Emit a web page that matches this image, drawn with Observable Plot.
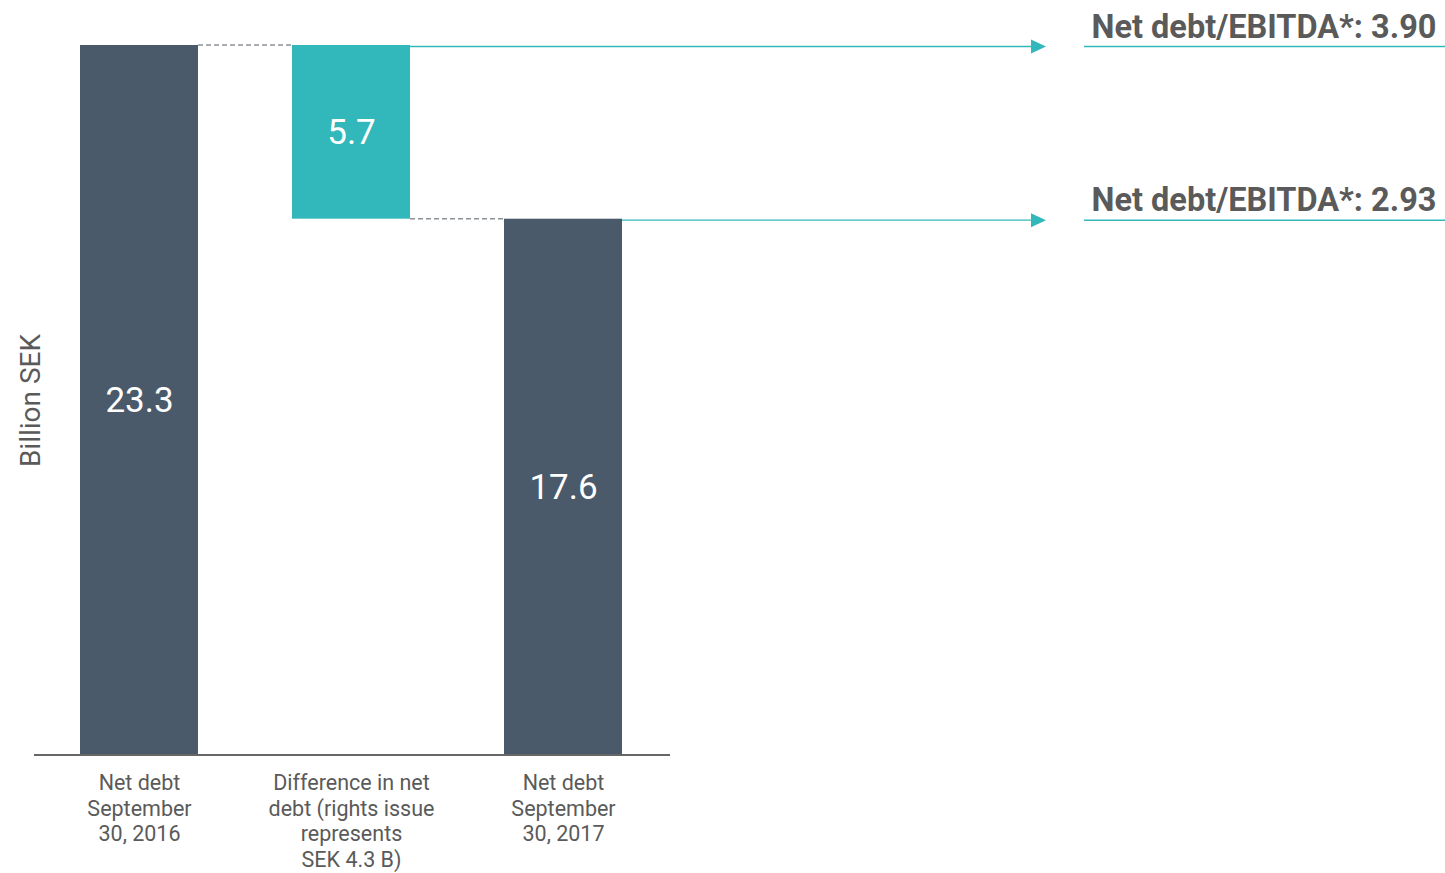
<!DOCTYPE html>
<html>
<head>
<meta charset="utf-8">
<script src="https://cdn.jsdelivr.net/npm/d3@7"></script>
<script src="https://cdn.jsdelivr.net/npm/@observablehq/plot@0.6"></script>
<style>
  body { margin: 0; background: #fff; }
  svg { display: block; }
</style>
</head>
<body>
<div id="chart"></div>
<script>
// ---- Data ----
const categories = [
  "Net debt\nSeptember\n30, 2016",
  "Difference in net\ndebt (rights issue\nrepresents\nSEK 4.3 B)",
  "Net debt\nSeptember\n30, 2017"
];
const barStarts = [0, 17.6, 0];
const barEnds = [23.3, 23.3, 17.6];
const barLabels = ["23.3", "5.7", "17.6"];
const barKinds = ["total", "change", "total"];
const connectorLevels = [23.3, 17.6];           // dashed link from bar i to bar i+1
const ratioLevels = [23.3, 17.6];
const ratioFromBar = [1, 2];                      // bar index the arrow starts from
const ratioLabels = ["Net debt/EBITDA*: 3.90", "Net debt/EBITDA*: 2.93"];
const yLabel = "Billion SEK";

// ---- Derived tables ----
const bars = categories.map((c, i) => ({category: c, start: barStarts[i], end: barEnds[i], label: barLabels[i], kind: barKinds[i]}));
const connectors = connectorLevels.map((v, i) => ({level: v, from: categories[i], to: categories[i + 1]}));
const ratios = ratioLevels.map((v, i) => ({level: v, from: categories[ratioFromBar[i]], label: ratioLabels[i]}));

const DARK = "#4a5a6a", TEAL = "#32b8bb", TEXT = "#5a5a5a";

function bw(scales) {
  const x = scales.x;
  return typeof x.bandwidth === "function" ? x.bandwidth() : scales.scales.x.bandwidth;
}

const chart = Plot.plot({
  width: 1445,
  height: 873,
  marginLeft: 35,
  marginRight: 400,
  marginTop: 45,
  marginBottom: 118,
  style: {fontFamily: "Roboto, sans-serif", background: "#fff"},
  x: {type: "band", domain: categories, range: [33, 669.5], paddingInner: 0.445, paddingOuter: 0.222},
  y: {domain: [0, 23.3], axis: null},
  color: {domain: ["total", "change"], range: [DARK, TEAL]},
  marks: [
    Plot.rectY(bars, {x: "category", y1: "start", y2: "end", fill: "kind"}),
    // baseline axis line
    Plot.ruleY([0], {
      y: d => d,
      render: (index, scales, values, dims) => {
        const b = bw(scales);
        const first = scales.x(categories[0]);
        const last = scales.x(categories[categories.length - 1]) + b;
        const outer = first - 33;
        const y = scales.y(0);
        const g = d3.create("svg:g");
        g.append("line").attr("x1", first - outer + 1).attr("x2", last + outer + 1).attr("y1", y).attr("y2", y)
          .attr("stroke", "#666").attr("stroke-width", 2);
        return g.node();
      }
    }),
    // dashed connectors
    Plot.ruleY(connectors, {
      y: "level",
      render: (index, scales, values, dims) => {
        const b = bw(scales);
        const g = d3.create("svg:g");
        for (const i of index) {
          const d = connectors[i];
          const y = values.y[i];
          g.append("line").attr("x1", scales.x(d.from) + b).attr("x2", scales.x(d.to))
            .attr("y1", y).attr("y2", y)
            .attr("stroke", "#8e9398").attr("stroke-width", 1.5).attr("stroke-dasharray", "5,3");
        }
        return g.node();
      }
    }),
    // arrows + underlines
    Plot.ruleY(ratios, {
      y: "level",
      render: (index, scales, values, dims) => {
        const b = bw(scales);
        const tip = dims.width - dims.marginRight + 1;
        const g = d3.create("svg:g");
        for (const i of index) {
          const d = ratios[i];
          const y = values.y[i] + 1.5;
          g.append("line").attr("x1", scales.x(d.from) + b).attr("x2", tip - 12)
            .attr("y1", y).attr("y2", y).attr("stroke", TEAL).attr("stroke-width", 1.3);
          g.append("path").attr("d", `M${tip},${y}L${tip - 15},${y - 7}L${tip - 15},${y + 7}Z`).attr("fill", TEAL);
          g.append("line").attr("x1", tip + 38).attr("x2", dims.width)
            .attr("y1", y).attr("y2", y).attr("stroke", TEAL).attr("stroke-width", 1.5);
        }
        return g.node();
      }
    }),
    // ratio labels
    Plot.text(ratios, {
      y: "level", text: "label", frameAnchor: "right", textAnchor: "start", lineAnchor: "bottom",
      dx: 46, dy: -8, fontSize: 32.5, fontWeight: 700, fill: TEXT
    }),
    // bar value labels
    Plot.text(bars, {
      x: "category", y: d => (d.start + d.end) / 2, text: "label",
      fill: "white", fontSize: 35, lineAnchor: "middle"
    }),
    // y label
    Plot.text([yLabel], {
      frameAnchor: "left", textAnchor: "middle", rotate: -90, dx: -4, fontSize: 28, fill: TEXT
    }),
    Plot.axisX({tickSize: 0, tickPadding: 16, fontSize: 21.5, lineHeight: 1.2, label: null, fill: TEXT})
  ]
});

document.getElementById("chart").append(chart);
</script>
</body>
</html>
